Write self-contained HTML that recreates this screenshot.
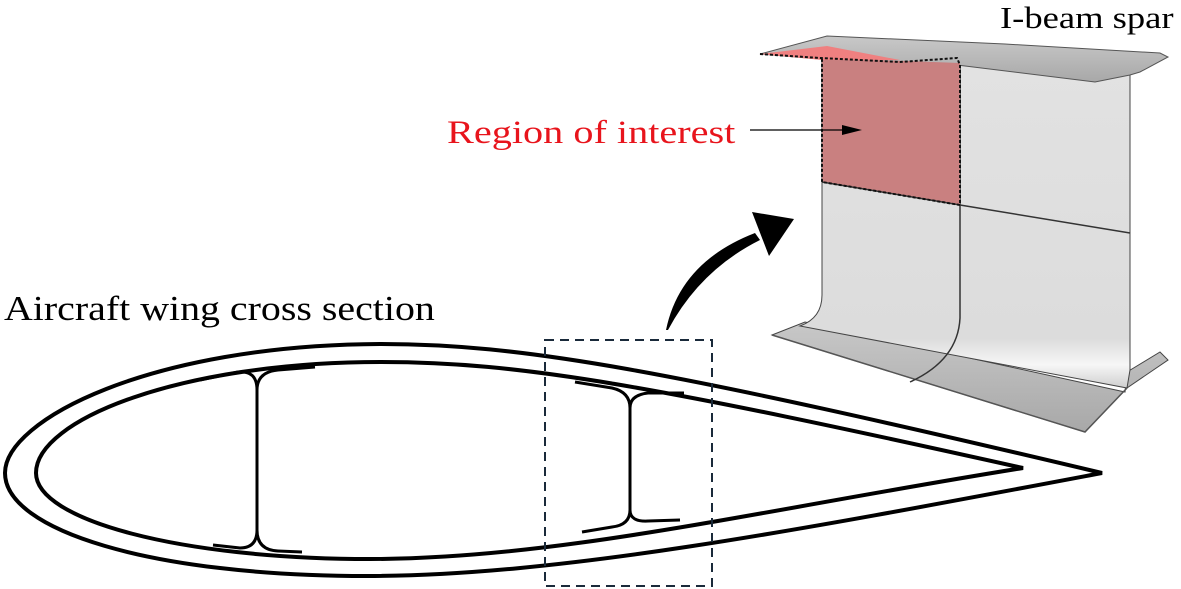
<!DOCTYPE html>
<html><head><meta charset="utf-8"><style>
html,body{margin:0;padding:0;background:#fff;}
svg{display:block;}
text{font-family:"Liberation Serif",serif;}
</style></head><body>
<svg width="1181" height="589" viewBox="0 0 1181 589" xmlns="http://www.w3.org/2000/svg">
<defs>
<linearGradient id="fl" x1="0" y1="0" x2="0" y2="1">
<stop offset="0" stop-color="#c8c8c8"/><stop offset="1" stop-color="#a8a8a8"/></linearGradient>
<linearGradient id="web" x1="0" y1="0" x2="0" y2="1">
<stop offset="0" stop-color="#e2e2e2"/><stop offset="0.85" stop-color="#dcdcdc"/><stop offset="0.93" stop-color="#f6f6f6"/><stop offset="1" stop-color="#cfcfcf"/></linearGradient>
</defs>
<text transform="translate(4,320) scale(1.14,1)" font-size="35">Aircraft wing cross section</text>
<text transform="translate(1000,28) scale(1.18,1)" font-size="31">I-beam spar</text>
<text transform="translate(447,143) scale(1.22,1)" font-size="33" fill="#e8141c">Region of interest</text>

<!-- spar -->
<polygon points="772,335 805,322 1125,392 1127,372 1160,352 1168,360 1127,388 1085,432" fill="url(#fl)" stroke="#444" stroke-width="1"/>
<path d="M822,58 L822,295 Q822,318 800,326 L1127,388 L1130,370 L1130,75 L960,62 Z" fill="url(#web)" stroke="#444" stroke-width="1"/>
<path d="M772,335 L1085,432 L1127,388" fill="none" stroke="#555" stroke-width="1.5"/>
<path d="M960,62 L960,318 Q958,360 910,382" fill="none" stroke="#333" stroke-width="1.5"/>
<polygon points="760,54 827,36 1005,44 1160,53 1168,57 1140,72 1130,75 1095,82 957,65 820,59" fill="url(#fl)" stroke="#555" stroke-width="1"/>
<polygon points="822,58 960,63 960,205 822,182" fill="#c98080"/>
<polygon points="760,54 827,46 900,60 822,60" fill="#ef8080"/>
<path d="M822,182 L960,205 L1130,233" fill="none" stroke="#333" stroke-width="1.5"/>
<path d="M760,54 L820,58 L900,62 L957,58 L960,65 L960,205 L822,182 L822,58" fill="none" stroke="#111" stroke-width="2" stroke-dasharray="3,2"/>
<line x1="750" y1="130" x2="845" y2="130" stroke="#000" stroke-width="1.2"/>
<polygon points="862,130 842,125 842,135" fill="#000"/>

<!-- big arrow -->
<path d="M666,330 Q680,262 755,233 L760,240 Q700,270 668,330 Z" fill="#000"/>
<polygon points="752,212 794,219 769,256" fill="#000"/>

<!-- airfoil -->
<g fill="none" stroke="#000" stroke-width="4">
<path d="M5,473 C5,420 150,345 380,344 C520,344 660,368 1102,473 C800,530 560,576 367,576 C150,576 5,530 5,473 Z"/>
<path d="M36,473 C36,420 180,362 381,362 C520,362 650,385 1023,468 C760,510 560,559 370,559 C180,559 36,520 36,473 Z"/>
</g>
<g fill="none" stroke="#000" stroke-width="3">
<path d="M200,380 L238,372 Q257,370 257,390 L257,530 Q257,548 240,548 L213,545"/>
<path d="M315,367 L278,370 Q257,372 257,390 M257,530 Q257,550 278,551 L302,552"/>
<path d="M575,382 L612,388 Q630,392 630,408 L630,510 Q630,525 612,527 L582,532"/>
<path d="M684,393 L648,393 Q630,395 630,408 M630,510 Q630,522 648,521 L680,520"/>
</g>
<rect x="545" y="340" width="167" height="246" fill="none" stroke="#1a2a3a" stroke-width="2" stroke-dasharray="9,6"/>
</svg>
</body></html>
